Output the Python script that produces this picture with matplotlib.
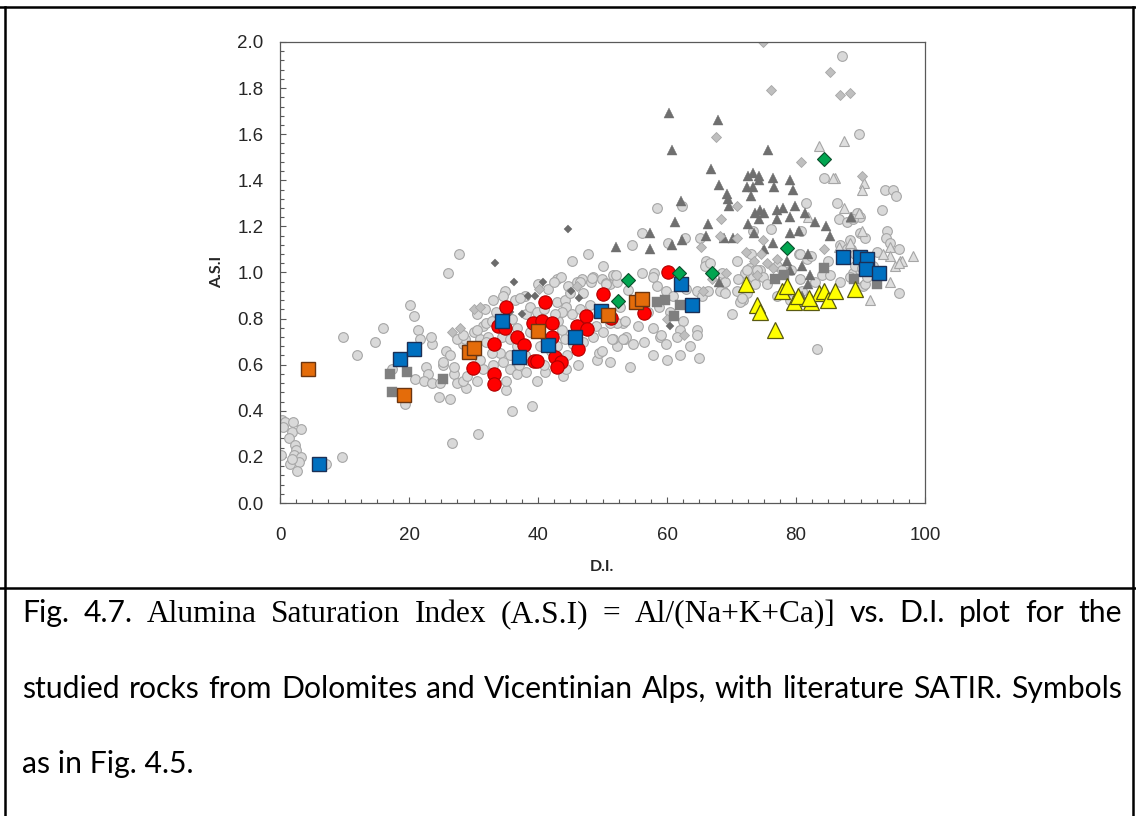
import matplotlib
matplotlib.use("Agg")
import matplotlib.pyplot as plt
from matplotlib.lines import Line2D
from matplotlib.ticker import MultipleLocator, FormatStrFormatter

# ---- literature SATIR (grey symbols) ----
lit_circ_x = [0.3, 0.8, 2.0, 0.5, 1.8, 3.2, 1.4, 2.3, 2.5, 0.1, 2.1, 3.2, 1.6, 3.0, 2.7, 1.9, 9.6, 7.2,
              9.7, 11.9, 14.7, 16.0, 20.2, 20.7, 21.4, 19.4, 22.7, 23.0, 25.2, 21.0, 22.3, 23.6, 27.0, 27.5,
              28.8, 24.7, 26.4, 26.6, 30.7, 26.1, 27.7, 23.5, 21.7, 25.8, 26.4, 28.4, 23.4, 26.9, 25.3, 28.4,
              24.8, 30.5, 17.3,
              30.5, 31.5, 30.0, 31.0, 28.7, 27.4, 33.1, 34.9, 34.6, 32.0, 28.3, 30.5, 35.1, 35.9, 39.1, 35.6,
              36.7, 35.1, 38.2, 39.8, 41.1, 43.9, 44.4, 46.2, 49.1, 49.4, 51.2, 52.2, 53.5, 53.2, 52.2, 34.4,
              35.7, 37.7, 36.7, 38.2, 38.8, 39.8, 43.1, 43.7, 44.2, 42.9, 38.8, 40.3, 36.7, 35.7, 34.1, 32.8,
              32.8, 32.3, 47.8, 45.2, 50.0, 42.9, 43.5, 44.7, 46.0, 46.8, 48.2, 48.6, 49.9, 51.2, 51.7, 52.2,
              43.0, 44.2, 44.4, 45.2, 43.7, 42.6, 29.0, 31.5, 33.0, 37.0, 38.5, 41.0, 44.5, 45.5, 47.0, 48.5,
              49.0, 50.0, 48.0, 46.5, 47.0, 45.0, 41.5, 40.0, 38.0, 36.5, 35.0, 33.5, 31.8, 36.0, 41.0, 42.0,
              38.0, 34.5, 32.0, 29.5, 31.0, 42.5, 46.5, 48.3, 50.6, 54.0, 37.2,
              56.1, 54.5, 52.1, 50.6, 56.1, 58.0, 60.2, 62.8, 65.1, 66.1, 65.9, 70.8, 59.9, 58.7, 57.9, 58.9,
              59.9, 62.5, 62.0, 64.6, 64.6, 64.9, 57.9, 54.8, 53.7, 51.7, 54.3, 52.7, 53.5, 51.2, 68.7, 71.5,
              72.1, 73.1, 73.4, 74.4, 59.1, 51.4, 53.2, 49.9, 58.4, 62.3, 57.9, 58.4, 68.5, 69.0, 68.2, 69.0,
              70.9, 72.4, 73.6, 71.8, 64.6, 65.4, 66.4, 66.7, 77.0, 77.8, 79.3, 80.5, 81.7, 72.9, 73.6, 72.4,
              74.9, 76.2, 73.4, 80.8, 56.0, 57.0, 60.5, 61.0, 63.0, 55.5, 56.5, 60.0, 62.0, 63.5, 61.5, 83.2,
              70.0, 75.5, 77.0, 79.0, 81.0, 83.0, 71.0, 71.3, 71.6, 73.9,
              87.1, 89.8, 84.3, 93.8, 95.0, 95.5, 93.4, 81.6, 86.3, 86.6, 87.9, 89.4, 89.9, 88.9, 88.4, 89.9,
              90.7, 94.1, 94.0, 94.5, 95.9, 96.0, 90.4, 88.9, 89.9, 92.0, 84.0, 85.3, 86.8, 87.9, 88.6, 89.1,
              89.1, 90.2, 90.7, 80.6, 82.4, 80.6, 86.8, 88.4, 85.0, 92.5, 93.0, 91.0]
lit_circ_y = [0.36, 0.35, 0.35, 0.33, 0.31, 0.32, 0.28, 0.25, 0.23, 0.21, 0.21, 0.20, 0.17, 0.18, 0.14, 0.19, 0.20, 0.17,
              0.72, 0.64, 0.70, 0.76, 0.86, 0.81, 0.75, 0.43, 0.59, 0.56, 0.60, 0.54, 0.53, 0.52, 0.56, 0.52,
              0.50, 0.46, 0.45, 0.26, 0.30, 1.00, 1.08, 0.69, 0.71, 0.66, 0.64, 0.69, 0.72, 0.59, 0.61, 0.53,
              0.52, 0.53, 0.58,
              0.82, 0.77, 0.74, 0.71, 0.71, 0.71, 0.88, 0.92, 0.90, 0.78, 0.73, 0.75, 0.49, 0.40, 0.42, 0.58,
              0.56, 0.53, 0.57, 0.53, 0.57, 0.55, 0.58, 0.60, 0.62, 0.65, 0.61, 0.68, 0.71, 0.78, 0.78, 0.72,
              0.71, 0.66, 0.76, 0.82, 0.85, 0.83, 0.79, 0.75, 0.71, 0.68, 0.74, 0.68, 0.68, 0.64, 0.65, 0.65,
              0.79, 0.72, 1.08, 1.05, 1.03, 0.97, 0.98, 0.94, 0.96, 0.97, 0.96, 0.98, 0.97, 0.95, 0.99, 0.96,
              0.87, 0.88, 0.85, 0.82, 0.83, 0.82, 0.55, 0.58, 0.60, 0.60, 0.62, 0.60, 0.64, 0.69, 0.70, 0.72,
              0.77, 0.74, 0.86, 0.84, 0.91, 0.91, 0.93, 0.95, 0.90, 0.88, 0.84, 0.83, 0.84, 0.80, 0.84, 0.66,
              0.64, 0.61, 0.70, 0.68, 0.62, 0.96, 0.96, 0.975, 0.956, 0.924, 0.888,
              1.17, 1.12, 0.99, 0.95, 1.00, 1.00, 1.13, 1.15, 1.15, 1.05, 1.03, 1.05, 0.92, 0.85, 0.76, 0.72,
              0.69, 0.79, 0.75, 0.75, 0.73, 0.63, 0.64, 0.69, 0.72, 0.71, 0.59, 0.85, 0.79, 0.78, 0.92, 0.88,
              1.00, 1.08, 0.98, 1.01, 0.73, 0.71, 0.71, 0.66, 1.28, 1.29, 0.98, 0.94, 1.00, 0.96, 0.92, 0.91,
              0.92, 0.91, 0.95, 0.88, 0.92, 0.90, 0.92, 1.04, 1.03, 1.01, 1.01, 1.08, 1.06, 1.02, 1.01, 1.01,
              0.98, 1.19, 1.18, 1.18, 0.88, 0.83, 0.83, 0.90, 0.93, 0.77, 0.70, 0.62, 0.64, 0.68, 0.72, 0.67,
              0.82, 0.95, 0.90, 0.88, 0.92, 0.96, 0.97, 0.87, 0.89, 1.01,
              1.94, 1.60, 1.41, 1.36, 1.36, 1.33, 1.27, 1.30, 1.30, 1.23, 1.22, 1.26, 1.24, 1.23, 1.14, 1.17,
              1.15, 1.18, 1.15, 1.13, 1.10, 0.91, 0.94, 1.00, 1.01, 1.03, 0.99, 0.99, 1.12, 1.10, 1.10, 1.08,
              1.03, 1.02, 0.95, 1.08, 1.07, 0.97, 0.96, 0.98, 1.05, 1.09, 1.00, 0.98]

lit_tri_light_x = [87.4, 83.5, 86.0, 90.6, 90.3, 87.4, 81.9, 88.6, 89.7, 90.3, 94.5, 98.2, 94.6, 96.1, 96.4,
                   95.3, 94.6, 91.4, 85.8, 88.4, 93.5, 95.9, 86.6]
lit_tri_light_y = [1.57, 1.55, 1.41, 1.39, 1.36, 1.28, 1.24, 1.24, 1.26, 1.18, 1.11, 1.07, 1.07, 1.05, 1.05,
                   1.03, 0.96, 0.88, 1.41, 1.13, 1.08, 1.04, 1.11]

lit_tri_dark_x = [60.3, 67.9, 60.8, 66.8, 75.7, 68.1, 72.6, 73.4, 74.2, 72.4, 73.4, 74.3, 76.4, 76.6, 79.1,
                  79.5, 69.3, 69.5, 69.6, 73.1, 62.1, 61.2, 66.4, 72.5, 73.6, 74.4, 75.0, 74.2, 77.0, 77.0,
                  78.0, 79.9, 81.4, 57.4, 57.4, 60.8, 62.3, 66.0, 68.9, 70.3, 73.5, 76.5, 79.1, 80.4, 84.7,
                  85.3, 81.9, 81.0, 82.1, 68.1, 88.5, 52.1, 78.6, 79.1, 81.0, 81.9, 75.0, 83.0, 79.0]
lit_tri_dark_y = [1.69, 1.66, 1.53, 1.45, 1.53, 1.38, 1.42, 1.43, 1.42, 1.37, 1.37, 1.40, 1.41, 1.37, 1.40,
                  1.36, 1.34, 1.32, 1.29, 1.33, 1.31, 1.22, 1.21, 1.21, 1.26, 1.27, 1.26, 1.23, 1.27, 1.23,
                  1.28, 1.29, 1.26, 1.17, 1.10, 1.12, 1.14, 1.16, 1.15, 1.15, 1.17, 1.13, 1.17, 1.18, 1.20,
                  1.16, 1.08, 1.03, 0.99, 0.96, 1.24, 1.11, 1.05, 1.01, 0.90, 0.95, 1.10, 1.22, 1.24]

lit_dia_dark_x = [33.4, 44.6, 36.3, 40.7, 38.5, 39.6, 45.1, 46.4, 37.5, 35.7, 60.5]
lit_dia_dark_y = [1.04, 1.19, 0.96, 0.96, 0.90, 0.90, 0.92, 0.89, 0.82, 0.83, 0.77]

lit_dia_light_x = [74.9, 85.2, 76.1, 86.8, 88.4, 67.6, 80.7, 90.3, 70.8, 68.3, 84.3, 68.2, 70.8, 74.9, 30.0,
                   31.0, 26.6, 27.9, 40.2, 46.0, 65.3, 72.3, 65.6, 62.6, 69.2, 73.5, 74.5, 75.5, 76.5, 74.0,
                   77.0, 60.0, 67.0]
lit_dia_light_y = [2.00, 1.87, 1.79, 1.77, 1.78, 1.59, 1.48, 1.42, 1.29, 1.23, 1.10, 1.16, 1.15, 1.14, 0.84,
                   0.85, 0.74, 0.76, 0.93, 0.94, 1.11, 1.09, 0.92, 0.73, 1.00, 1.05, 1.08, 1.04, 1.02, 0.99,
                   1.06, 0.80, 0.97]

lit_sq_x = [17.1, 19.7, 17.3, 25.3, 58.4, 59.7, 62.0, 61.1, 76.7, 78.2, 84.4, 89.0, 92.5]
lit_sq_y = [0.56, 0.57, 0.48, 0.54, 0.87, 0.88, 0.86, 0.81, 0.97, 0.99, 1.02, 0.97, 0.95]

# ---- studied rocks, Dolomites and Vicentinian Alps ----
red_x = [35.1, 41.1, 50.1, 33.8, 34.9, 33.2, 29.9, 33.2, 33.2, 36.8, 37.8, 39.3, 40.6, 42.1, 42.2, 39.4,
         39.9, 42.6, 43.5, 42.9, 46.1, 47.5, 47.6, 46.2, 51.3, 56.5, 60.2]
red_y = [0.85, 0.87, 0.905, 0.77, 0.76, 0.69, 0.585, 0.56, 0.515, 0.72, 0.684, 0.78, 0.79, 0.78, 0.72, 0.615,
         0.615, 0.635, 0.61, 0.59, 0.766, 0.81, 0.753, 0.666, 0.803, 0.823, 1.003]

blue_x = [6.0, 18.6, 20.8, 34.4, 37.1, 41.5, 45.7, 49.8, 62.1, 63.9, 87.3, 89.9, 91.0, 90.8, 92.9]
blue_y = [0.17, 0.623, 0.669, 0.79, 0.632, 0.684, 0.722, 0.833, 0.95, 0.86, 1.067, 1.067, 1.058, 1.015, 0.998]

orange_x = [4.3, 19.2, 29.3, 30.0, 40.0, 50.9, 55.2, 56.2]
orange_y = [0.581, 0.47, 0.656, 0.671, 0.745, 0.816, 0.873, 0.886]

green_x = [52.4, 53.9, 61.8, 66.9, 78.6, 84.4]
green_y = [0.878, 0.967, 1.0, 0.997, 1.108, 1.492]

yellow_x = [72.2, 73.9, 74.4, 76.7, 77.9, 78.6, 79.7, 80.3, 82.3, 83.6, 84.3, 84.9, 86.1, 89.1, 82.0]
yellow_y = [0.95, 0.86, 0.83, 0.75, 0.92, 0.94, 0.87, 0.90, 0.87, 0.91, 0.92, 0.88, 0.92, 0.93, 0.89]

caption_1 = [("Fig.", "sans"), ("4.7.", "sans"), ("Alumina", "serif"), ("Saturation", "serif"),
             ("Index", "serif"), ("(A.S.I)", "serif"), ("=", "serif"), ("Al/(Na+K+Ca)]", "serif"),
             ("vs.", "sans"), ("D.I.", "sans"), ("plot", "sans"), ("for", "sans"), ("the", "sans")]
caption_2 = "studied rocks from Dolomites and Vicentinian Alps, with literature SATIR. Symbols"
caption_3 = "as in Fig. 4.5."

W, H = 1136, 816
SANS = "Lato"
SERIF = "Liberation Serif"

fig = plt.figure(figsize=(W / 100, H / 100), dpi=100)
ax = fig.add_axes([280 / W, 1 - 503 / H, 645 / W, 461 / H])

grey_edge = "#a6a6a6"
ax.plot(lit_circ_x, lit_circ_y, ls="none", marker="o", ms=7.0, mfc="#d9d9d9", mec=grey_edge, mew=0.8)
ax.plot(lit_tri_light_x, lit_tri_light_y, ls="none", marker="^", ms=7.2, mfc="#dedede", mec=grey_edge, mew=0.8)
ax.plot(lit_tri_dark_x, lit_tri_dark_y, ls="none", marker="^", ms=6.6, mfc="#6f6f6f", mec="#6f6f6f", mew=0.3)
ax.plot(lit_dia_light_x, lit_dia_light_y, ls="none", marker="D", ms=4.8, mfc="#bfbfbf", mec=grey_edge, mew=0.6)
ax.plot(lit_dia_dark_x, lit_dia_dark_y, ls="none", marker="D", ms=4.2, mfc="#6b6b6b", mec="#6b6b6b", mew=0.3)
ax.plot(lit_sq_x, lit_sq_y, ls="none", marker="s", ms=6.5, mfc="#7f7f7f", mec="#7f7f7f", mew=0.3)

ax.plot(red_x, red_y, ls="none", marker="o", ms=9.6, mfc="#ff0000", mec="#b00000", mew=0.8)
ax.plot(blue_x, blue_y, ls="none", marker="s", ms=10.3, mfc="#0070c0", mec="#1c2f55", mew=1.0)
ax.plot(orange_x, orange_y, ls="none", marker="s", ms=10.3, mfc="#e46c0a", mec="#6b3510", mew=1.0)
ax.plot(green_x, green_y, ls="none", marker="D", ms=7.4, mfc="#00a550", mec="#0b4d2a", mew=0.8)
ax.plot(yellow_x, yellow_y, ls="none", marker="^", ms=11, mfc="#ffff00", mec="#5a5a10", mew=0.9)

ax.set_xlim(0, 100)
ax.set_ylim(0, 2.0)
ax.xaxis.set_major_locator(MultipleLocator(20))
ax.xaxis.set_minor_locator(MultipleLocator(2.5))
ax.yaxis.set_major_locator(MultipleLocator(0.2))
ax.yaxis.set_minor_locator(MultipleLocator(0.04))
ax.yaxis.set_major_formatter(FormatStrFormatter("%.1f"))
for sp in ax.spines.values():
    sp.set_color("#595959")
    sp.set_linewidth(0.9)
ax.tick_params(which="both", direction="in", color="#595959", width=0.8, top=False, right=False)
ax.tick_params(which="major", length=4.5)
ax.tick_params(which="minor", length=2.8)
ax.tick_params(axis="y", which="major", pad=12, labelsize=13.5, labelcolor="#262626")
ax.tick_params(axis="x", which="major", pad=17, labelsize=13.5, labelcolor="#262626")
for lab in ax.get_xticklabels() + ax.get_yticklabels():
    lab.set_fontfamily("Liberation Sans")

fig.text(217 / W, 1 - 272 / H, "A.S.I", rotation=90, ha="center", va="center",
         fontsize=11.5, fontweight="bold", fontfamily=SANS, color="#262626")
fig.text(602 / W, 1 - 567 / H, "D.I.", ha="center", va="center",
         fontsize=11.5, fontweight="bold", fontfamily=SANS, color="#262626")

# frame around figure and caption
for xs, ys in [((0, 1), (1 - 6.5 / H, 1 - 6.5 / H)),
               ((0, 1), (1 - 588 / H, 1 - 588 / H)),
               ((5 / W, 5 / W), (0, 1 - 6.5 / H)),
               ((1133 / W, 1133 / W), (0, 1 - 6.5 / H))]:
    fig.add_artist(Line2D(xs, ys, transform=fig.transFigure, color="black", lw=1.8))

# caption, justified between the frame lines
renderer = fig.canvas.get_renderer()
x_left, x_right = 22, 1122


def word_width(t):
    return t.get_window_extent(renderer).width


probe = fig.text(0, 0, caption_2, fontfamily=SANS, fontsize=10)
cap_size = 10 * 1088 / word_width(probe)
probe.remove()


def justify(words, base_px):
    texts = []
    for w, kind in words:
        fam = SANS if kind == "sans" else SERIF
        size = cap_size if kind == "sans" else cap_size * 1.04
        texts.append(fig.text(0, 0, w, fontfamily=fam, fontsize=size, ha="left", va="baseline"))
    widths = [word_width(t) for t in texts]
    gap = (x_right - x_left - sum(widths)) / (len(texts) - 1)
    x = x_left
    for t, wd in zip(texts, widths):
        t.set_position((x / W, 1 - base_px / H))
        x += wd + gap


justify(caption_1, 622)
justify([(w, "sans") for w in caption_2.split()], 698)
fig.text(x_left / W, 1 - 773 / H, caption_3, fontfamily=SANS, fontsize=cap_size, ha="left", va="baseline")

fig.savefig("out.png", dpi=100)
